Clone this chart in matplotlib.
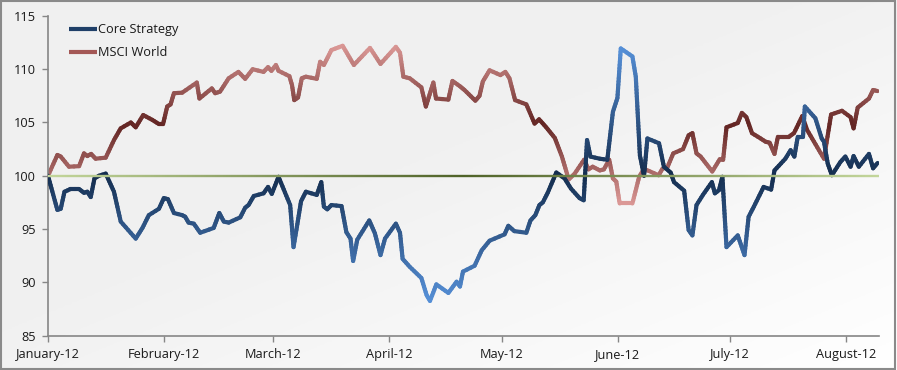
import numpy as np
import matplotlib
matplotlib.use("Agg")
import matplotlib.pyplot as plt
import matplotlib.dates as mdates
from matplotlib.collections import LineCollection
from matplotlib.lines import Line2D
from matplotlib.patches import Rectangle
from datetime import datetime

# === font ===
plt.rcParams['font.family'] = ['Open Sans', 'DejaVu Sans']

# === data (days after 1 Jan 2012, index level) ===
core_days = [0.0, 2.5, 3.4, 4.4, 6.0, 8.3, 9.6, 10.5, 11.4, 12.4, 13.6, 15.4, 17.6, 19.4, 23.4, 25.2,
             26.9, 29.6, 30.9, 32.0, 33.6, 35.8, 36.6, 37.5, 38.9, 40.6, 44.2, 45.7, 46.9, 48.2, 51.3,
             52.6, 53.5, 54.9, 57.5, 58.7, 59.7, 61.5, 64.6, 65.5, 66.4, 67.5, 68.8, 71.7, 72.9, 73.6,
             74.5, 75.6, 78.3, 79.6, 80.7, 81.4, 82.5, 85.7, 87.2, 88.7, 89.9, 92.8, 93.9, 94.6, 96.5,
             99.6, 101.0, 101.9, 103.6, 106.8, 109.0, 109.9, 110.7, 113.8, 115.7, 117.8, 121.8, 122.8,
             124.4, 127.6, 128.7, 130.0, 131.1, 132.0, 133.3, 135.6, 137.8, 139.5, 141.8, 142.9, 143.8,
             144.7, 147.2, 149.2, 150.7, 151.9, 152.8, 155.9, 156.8, 157.9, 159.0, 159.9, 163.0, 164.3,
             166.1, 167.0, 169.7, 170.9, 171.9, 173.0, 174.7, 177.1, 177.9, 179.0, 179.9, 181.0, 184.0,
             185.8, 186.9, 188.3, 190.9, 192.9, 193.8, 196.7, 198.1, 199.1, 200.0, 201.4, 201.9, 204.7,
             206.4, 207.0, 208.0, 209.1, 211.4, 212.7, 214.1, 214.9, 216.3, 219.0, 220.1, 221.3]
core_vals = [100.0, 96.8, 96.9, 98.5, 98.75, 98.75, 98.4, 98.5, 98.0, 99.75, 100.0, 100.2, 98.5, 95.7,
             94.1, 95.1, 96.3, 96.9, 97.9, 97.8, 96.5, 96.3, 96.15, 95.6, 95.5, 94.65, 95.1, 96.5, 95.7,
             95.6, 96.1, 97.0, 97.25, 98.1, 98.35, 98.95, 98.3, 99.9, 97.25, 93.3, 95.2, 97.6, 98.5,
             98.2, 99.4, 97.1, 96.85, 97.25, 97.15, 94.7, 94.1, 92.0, 94.0, 95.8, 94.6, 92.55, 94.1,
             95.5, 94.65, 92.2, 91.45, 90.4, 88.8, 88.25, 89.8, 89.0, 90.05, 89.6, 91.0, 91.55, 93.0,
             93.9, 94.5, 95.3, 94.8, 94.65, 95.8, 96.3, 97.25, 97.5, 98.4, 100.3, 99.75, 98.8, 97.9,
             97.7, 103.35, 101.8, 101.6, 101.5, 106.0, 107.3, 111.95, 111.2, 109.3, 101.9, 100.0, 103.5,
             103.05, 100.85, 100.3, 99.4, 98.6, 94.9, 94.4, 97.25, 98.2, 99.4, 98.35, 98.65, 99.9, 93.3,
             94.4, 92.55, 96.15, 97.1, 98.95, 98.7, 100.5, 101.6, 102.4, 101.8, 103.65, 103.65, 106.5,
             105.4, 103.5, 103.2, 101.15, 100.05, 101.3, 101.8, 100.85, 101.85, 100.85, 102.05, 100.7,
             101.2]

msci_days = [0.0, 2.5, 3.4, 5.6, 8.3, 9.6, 10.5, 11.5, 12.7, 15.4, 17.6, 19.4, 22.1, 23.4, 25.4, 27.8,
             29.6, 30.7, 31.8, 32.7, 33.6, 35.8, 39.7, 40.4, 43.7, 44.6, 45.9, 48.2, 50.8, 52.6, 54.6,
             57.5, 58.7, 59.6, 60.8, 61.5, 64.4, 65.1, 65.7, 66.7, 67.7, 68.8, 71.7, 72.6, 73.6, 75.6,
             78.6, 80.1, 81.6, 85.9, 88.7, 92.8, 93.9, 94.8, 96.5, 99.6, 100.8, 102.8, 103.5, 106.8,
             107.9, 109.9, 111.1, 114.0, 115.1, 116.0, 117.8, 120.7, 122.0, 123.1, 124.6, 127.6, 129.8,
             131.0, 132.9, 135.2, 137.1, 138.9, 140.5, 143.0, 144.2, 145.3, 147.2, 148.3, 149.7, 150.7,
             151.6, 152.5, 155.9, 157.7, 159.0, 162.9, 163.9, 165.3, 166.8, 169.4, 170.9, 171.9, 173.0,
             174.1, 177.2, 179.2, 180.1, 181.0, 184.0, 185.1, 186.3, 187.8, 190.1, 191.4, 192.5, 193.8,
             194.7, 197.6, 199.0, 201.2, 202.5, 207.0, 208.9, 211.8, 214.1, 214.9, 216.0, 219.0, 220.1,
             221.3]
msci_vals = [100.0, 101.95, 101.8, 100.85, 100.9, 102.1, 101.85, 102.05, 101.6, 101.7, 103.35, 104.45,
             105.0, 104.55, 105.7, 105.25, 104.85, 104.85, 106.5, 106.7, 107.75, 107.8, 108.75, 107.25,
             108.2, 107.75, 107.9, 109.15, 109.75, 109.1, 110.0, 109.75, 110.2, 109.85, 110.4, 109.85,
             109.35, 108.5, 107.1, 107.35, 109.15, 109.3, 109.1, 110.7, 110.4, 111.8, 112.2, 111.3,
             110.4, 112.0, 110.5, 112.1, 111.55, 109.3, 109.15, 108.3, 106.5, 108.75, 107.25, 107.15,
             108.9, 108.4, 108.05, 107.05, 107.5, 108.85, 109.9, 109.45, 109.75, 109.15, 107.1, 106.7,
             104.9, 105.3, 104.55, 103.55, 101.8, 99.65, 100.2, 101.5, 100.6, 100.85, 100.5, 100.6,
             101.5, 99.75, 99.45, 97.4, 97.4, 99.9, 100.65, 100.05, 100.65, 100.85, 102.1, 102.5, 103.8,
             104.0, 102.1, 101.8, 100.4, 101.55, 101.5, 104.55, 104.95, 105.9, 105.5, 104.0, 103.5,
             103.2, 103.1, 102.05, 103.65, 103.65, 104.0, 105.6, 104.3, 101.6, 105.75, 106.1, 105.5,
             104.45, 106.4, 107.25, 108.05, 107.95]

month_ticks = ['2012-01-01', '2012-02-01', '2012-03-01', '2012-04-01', '2012-05-01',
               '2012-06-01', '2012-07-01', '2012-08-01']
month_labels = ['January-12', 'February-12', 'March-12', 'April-12', 'May-12',
                'June-12', 'July-12', 'August-12']
y_ticks = [85, 90, 95, 100, 105, 110, 115]

start = mdates.date2num(datetime(2012, 1, 1))
x_end = start + 221.6


def hex2rgb(h):
    return np.array([int(h[i:i + 2], 16) / 255 for i in (1, 3, 5)])


def gradient_line(ax, days, vals, dark, light, lw, zorder):
    """Line whose colour fades from dark (middle of its range) to light (extremes)."""
    x = start + np.asarray(days)
    y = np.asarray(vals)
    c = (y.max() + y.min()) / 2
    h = (y.max() - y.min()) / 2
    d, l = hex2rgb(dark), hex2rgb(light)
    segs, cols = [], []
    for i in range(len(x) - 1):
        # cut each segment in small pieces only so the colour can change along it
        n = 2 + int(abs(y[i + 1] - y[i]) * 3)
        tx = np.linspace(x[i], x[i + 1], n + 1)
        ty = np.linspace(y[i], y[i + 1], n + 1)
        for k in range(n):
            segs.append([(tx[k], ty[k]), (tx[k + 1], ty[k + 1])])
            t = min(1, abs((ty[k] + ty[k + 1]) / 2 - c) / h)
            cols.append(d + (l - d) * t)
    lc = LineCollection(segs, colors=cols, linewidths=lw, capstyle='round',
                        joinstyle='round', zorder=zorder)
    ax.add_collection(lc)


fig = plt.figure(figsize=(8.97, 3.70), dpi=100)

# background gradient
bg = fig.add_axes([0, 0, 1, 1], zorder=-10)
gx, gy = np.meshgrid(np.linspace(0, 1, 300), np.linspace(0, 1, 120))
shade = 0.945 + 0.055 * np.clip(gx + gy - 0.9, 0, 1.1) / 1.1
bg.imshow(np.dstack([shade] * 3), aspect='auto', extent=[0, 1, 0, 1], origin='upper')
bg.axis('off')

ax = fig.add_axes([0.0535, 0.0932, 0.9261, 0.8636])
ax.set_facecolor('none')

gradient_line(ax, core_days, core_vals, '#142D4E', '#5690D8', 3.0, 3)
gradient_line(ax, msci_days, msci_vals, '#632523', '#DB9896', 3.0, 2)

# 100 reference line, olive in the middle fading out to the sides
gxs = np.linspace(start, x_end, 300)
gsegs = [[(gxs[k], 100), (gxs[k + 1], 100)] for k in range(len(gxs) - 1)]
gd, gl = hex2rgb('#4F6228'), hex2rgb('#C3D69B')
xc = (start + x_end) / 2
gcols = [gd + (gl - gd) * min(1, abs((gxs[k] + gxs[k + 1]) / 2 - xc) / (x_end - xc))
         for k in range(len(gxs) - 1)]
ax.add_collection(LineCollection(gsegs, colors=gcols, linewidths=1.7, zorder=4))

ax.set_xlim(start, x_end)
ax.set_ylim(85, 115)
ax.set_yticks(y_ticks)
ax.set_xticks([mdates.datestr2num(d) for d in month_ticks])
ax.set_xticklabels(month_labels)

for s in ['top', 'right']:
    ax.spines[s].set_visible(False)
for s in ['left', 'bottom']:
    ax.spines[s].set_color('#868686')
    ax.spines[s].set_linewidth(1.2)
ax.tick_params(axis='both', direction='out', length=4, width=1.0, color='#868686',
               labelsize=9.2, labelcolor='#1a1a1a')
ax.tick_params(axis='y', pad=5)
ax.tick_params(axis='x', pad=5)

# legend drawn by hand
for yy, col, name in [(0.921, '#1F3F68', 'Core Strategy'), (0.859, '#A45856', 'MSCI World')]:
    fig.add_artist(Line2D([0.0769, 0.108], [yy, yy], color=col, lw=3.0,
                          transform=fig.transFigure, solid_capstyle='butt'))
    fig.text(0.1093, yy, name, fontsize=9.2, color='#1a1a1a', va='center', ha='left')

# frame round the picture
fig.add_artist(Rectangle((0.001, 0.002), 0.997, 0.995, transform=fig.transFigure,
                         fill=False, edgecolor='#8A8A8A', lw=1.5))

fig.savefig('out.png', dpi=100)
